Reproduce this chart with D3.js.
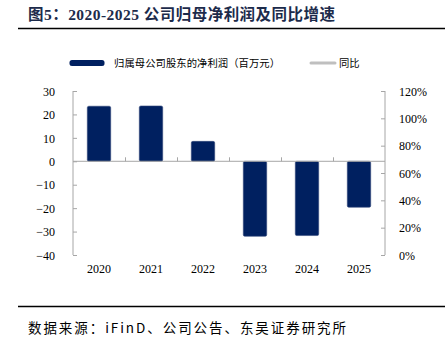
<!DOCTYPE html>
<html><head><meta charset="utf-8">
<script src="https://cdn.jsdelivr.net/npm/d3@7"></script>
<style>
body{margin:0;background:#fff;}
svg{display:block;}
</style></head>
<body>
<svg id="c" width="445" height="337"></svg>
<script>
const titleText = "图5：2020-2025 公司归母净利润及同比增速";
const sourceText = "数据来源：iFinD、公司公告、东吴证券研究所";
const categories = ["2020","2021","2022","2023","2024","2025"];
const netProfit = [23.5, 23.6, 8.5, -32.0, -31.7, -19.6];
const yoy = [null, null, null, null, null, null];
const leftTicks = [30,20,10,0,-10,-20,-30,-40];
const rightTicks = [0,0.2,0.4,0.6,0.8,1.0,1.2];
const legendNames = ["归属母公司股东的净利润（百万元）","同比"];

const svg = d3.select("#c");
const serif = "'Liberation Serif','Times New Roman',serif";
const cjk = "'Noto Sans CJK SC','Noto Sans',sans-serif";
const navy = "#002060";
const axisCol = "#a6a6a6";

// title
svg.append("text").attr("x",28).attr("y",20)
  .attr("font-family",serif+","+cjk).attr("font-weight","bold").attr("font-size",15.5)
  .attr("fill","#1c2b4b").attr("textLength",307).text(titleText);
svg.append("line").attr("x1",18).attr("x2",445).attr("y1",28.5).attr("y2",28.5)
  .attr("stroke","#000").attr("stroke-width",1.5);

const x = d3.scaleBand().domain(categories).range([73,385]).paddingInner(0.55).paddingOuter(0.275);
const y = d3.scaleLinear().domain([-40,30]).range([255,91]);
const y2 = d3.scaleLinear().domain([0,1.2]).range([255,91]);

// left axis
const gl = svg.append("g").attr("transform","translate(73,0)")
  .call(d3.axisLeft(y).tickValues(leftTicks).tickSize(-4).tickPadding(18).tickFormat(d3.format("d")));
gl.select(".domain").attr("stroke",axisCol).attr("d","M0,91V255");
gl.selectAll(".tick line").attr("stroke",axisCol);
gl.selectAll("text").attr("font-family",serif).attr("font-size",12).attr("fill","#000").attr("dy","0.35em");

// right axis
const gr = svg.append("g").attr("transform","translate(385,0)")
  .call(d3.axisRight(y2).tickValues(rightTicks).tickSize(-4).tickPadding(14).tickFormat(d3.format(".0%")));
gr.select(".domain").attr("stroke",axisCol).attr("d","M0,91V255");
gr.selectAll(".tick line").attr("stroke",axisCol);
gr.selectAll("text").attr("font-family",serif).attr("font-size",12).attr("fill","#000").attr("dy","0.35em");

// bars
svg.append("g").selectAll("rect").data(categories).join("rect")
  .attr("x",d=>x(d))
  .attr("width",x.bandwidth())
  .attr("y",(d,i)=>y(Math.max(0,netProfit[i])))
  .attr("height",(d,i)=>Math.abs(y(netProfit[i])-y(0)))
  .attr("rx",1.5)
  .attr("fill",navy).attr("stroke","#33487a").attr("stroke-width",0.6);

// zero line with upward ticks at band boundaries
const zx = d3.scaleLinear().domain([0,categories.length]).range([73,385]);
const gz = svg.append("g").attr("transform",`translate(0,${y(0)})`)
  .call(d3.axisTop(zx).tickValues(d3.range(1,categories.length)).tickSize(4).tickFormat(""));
gz.select(".domain").attr("stroke",axisCol).attr("d","M73,0H385");
gz.selectAll(".tick line").attr("stroke",axisCol);

// line (yoy) on right axis
const line = d3.line().defined(d=>d!=null).x((d,i)=>x(categories[i])+x.bandwidth()/2).y(d=>y2(d));
svg.append("path").datum(yoy).attr("d",line).attr("fill","none").attr("stroke","#bfbfbf").attr("stroke-width",3);

// x labels
svg.append("g").selectAll("text").data(categories).join("text")
  .attr("x",d=>x(d)+x.bandwidth()/2).attr("y",273)
  .attr("text-anchor","middle").attr("font-family",serif).attr("font-size",12).text(d=>d);

// legend
svg.append("rect").attr("x",69.5).attr("y",60).attr("width",35).attr("height",6).attr("rx",2.5).attr("fill",navy);
svg.append("text").attr("x",114).attr("y",67).attr("font-family",cjk).attr("font-size",10.3).attr("fill","#000")
  .attr("textLength",166).text(legendNames[0]);
svg.append("line").attr("x1",311).attr("x2",335).attr("y1",63).attr("y2",63).attr("stroke","#bfbfbf").attr("stroke-width",3).attr("stroke-linecap","round");
svg.append("text").attr("x",339).attr("y",67).attr("font-family",cjk).attr("font-size",10.3).text(legendNames[1]);

// bottom
svg.append("line").attr("x1",18).attr("x2",445).attr("y1",306.5).attr("y2",306.5).attr("stroke","#000").attr("stroke-width",1.5);
svg.append("text").attr("x",28).attr("y",333).attr("font-family",cjk).attr("font-size",13.5).attr("fill","#000")
  .attr("textLength",318).text(sourceText);
</script>
</body></html>
